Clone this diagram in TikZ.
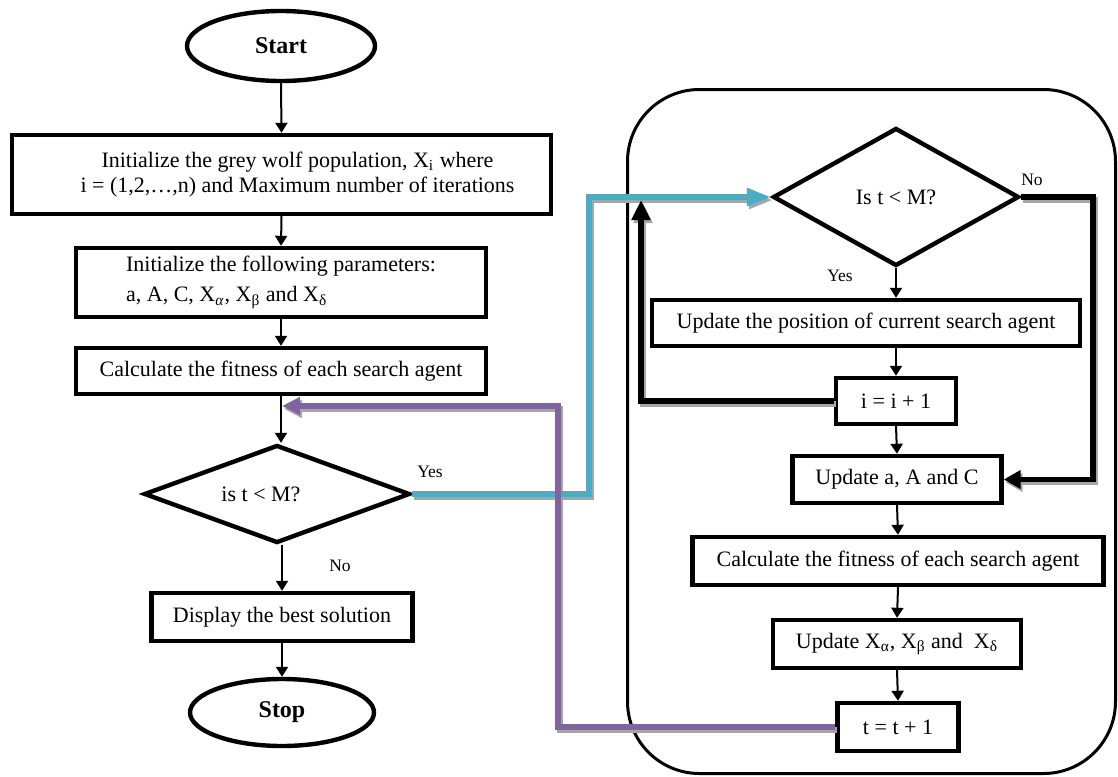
\documentclass[tikz,border=0pt]{standalone}
\usepackage{fontspec}
\setmainfont{Liberation Serif}
\usetikzlibrary{shapes.geometric,arrows.meta,calc}
\definecolor{aqua}{RGB}{75,172,198}
\definecolor{lilac}{RGB}{128,100,162}
\begin{document}
\begin{tikzpicture}[x=0.5pt,y=-0.5pt,
  box/.style={draw,line width=2.2pt,inner sep=0pt,align=center,font=\fontsize{11}{12.5}\selectfont},
  term/.style={draw,ellipse,line width=2.2pt,inner sep=0pt,font=\fontsize{12}{14}\selectfont\bfseries},
  dec/.style={draw,diamond,line width=2.2pt,inner sep=0pt,font=\fontsize{11}{12.5}\selectfont},
  lbl/.style={inner sep=0pt,font=\fontsize{8.75}{10}\selectfont},
  flow/.style={line width=1pt,-{Triangle[length=5pt,width=6pt]}},
  heavy/.style={line width=2.75pt,line join=miter},
  shadecol/.style={draw=black!35}
]
\useasboundingbox (0,0) rectangle (1118,776);
\draw[line width=1.5pt,rounded corners=36pt] (627.5,89.5) rectangle (1115.5,773.5);

% left column
\node[term,minimum width=94pt,minimum height=35pt] (start) at (281,46) {Start};
\node[box,minimum width=269.5pt,minimum height=39.5pt] (init) at (281.5,174.5)
  {\hspace*{16pt}Initialize the grey wolf population, X\textsubscript{i} where\\ \hspace*{16pt}i = (1,2,…,n) and Maximum number of iterations};
\node[box,minimum width=205pt,minimum height=34.5pt,align=left,font=\fontsize{11}{15}\selectfont] (param) at (281,282.5)
  {Initialize the following parameters:\\ a, A, C, X\textsubscript{\textit{α}}, X\textsubscript{β} and X\textsubscript{δ}};
\node[box,minimum width=205pt,minimum height=23pt] (fit1) at (281,371) {Calculate the fitness of each search agent};
\node[dec,minimum width=133pt,minimum height=49pt] (chk1) at (277,494) {\hspace*{-16pt}is t < M?};
\node[box,minimum width=130.5pt,minimum height=24pt] (disp) at (282,617) {Display the best solution};
\node[term,minimum width=92pt,minimum height=33.5pt] (stop) at (282,712.5) {Stop};

% right column
\node[dec,minimum width=123pt,minimum height=69pt] (chk2) at (896,197) {Is t < M?};
\node[box,minimum width=214pt,minimum height=23pt] (pos) at (866,323) {Update the position of current search agent};
\node[box,minimum width=60pt,minimum height=23pt] (inc) at (896,401) {i = i + 1};
\node[box,minimum width=104.5pt,minimum height=23.5pt] (upd) at (897,479.5) {Update a, A and C};
\node[box,minimum width=205.5pt,minimum height=24pt] (fit2) at (898,561) {Calculate the fitness of each search agent};
\node[box,minimum width=124pt,minimum height=24pt] (best) at (897,644) {Update X\textsubscript{α}, X\textsubscript{β} and\ \ X\textsubscript{δ}};
\node[box,minimum width=60.5pt,minimum height=24pt] (tinc) at (898,727) {t = t + 1};

% labels
\node[lbl] (y1) at (430,472) {Yes};
\node[lbl] (n1) at (340,566) {No};
\node[lbl] (y2) at (840,276) {Yes};
\node[lbl] (n2) at (1032,180) {No};

% helper coordinates
\coordinate (cx) at (589,0);
\coordinate (nx) at (1093,0);
\coordinate (lx) at (641,200);
\coordinate (pv) at (558,406);
\coordinate (pm) at (282,406);

% thin flows
\draw[flow] (start.south) -- (init.north);
\draw[flow] (init.south) -- (param.north);
\draw[flow] (param.south) -- (fit1.north);
\draw[flow] (fit1.south) -- (fit1.south |- chk1.north);
\draw[flow] (chk1.south -| disp.north) -- (disp.north);
\draw[flow] (disp.south) -- (stop.north);
\draw[flow] (chk2.south) -- (chk2.south |- pos.north);
\draw[flow] (pos.south -| inc.north) -- (inc.north);
\draw[flow] (inc.south) -- (upd.north);
\draw[flow] (upd.south) -- (fit2.north);
\draw[flow] (fit2.south) -- (best.north);
\draw[flow] (best.south) -- (tinc.north);

% shadows of heavy connectors
\begin{scope}[transform canvas={xshift=1pt,yshift=-1.5pt}]
  \draw[heavy,shadecol,-{Triangle[length=12pt,width=8.5pt]}] (chk1.east) -- (chk1.east -| cx) |- (chk2.west);
  \draw[heavy,shadecol,-{Triangle[length=9pt,width=8.5pt]}] (tinc.west) -| (pv) -- (pm);
  \draw[heavy,shadecol,-{Triangle[length=8.5pt,width=9pt]}] (chk2.east) -- (chk2.east -| nx) |- (upd.east);
  \draw[heavy,shadecol,-{Triangle[length=10pt,width=9pt]}] (inc.west) -| (lx);
\end{scope}

% heavy connectors
\draw[heavy,draw=aqua,-{Triangle[length=12pt,width=8.5pt,fill=aqua]}] (chk1.east) -- (chk1.east -| cx) |- (chk2.west);
\draw[heavy,draw=lilac,-{Triangle[length=9pt,width=8.5pt,fill=lilac]}] (tinc.west) -| (pv) -- (pm);
\draw[heavy,-{Triangle[length=8.5pt,width=9pt]}] (chk2.east) -- (chk2.east -| nx) |- (upd.east);
\draw[heavy,-{Triangle[length=10pt,width=9pt]}] (inc.west) -| (lx);
\end{tikzpicture}
\end{document}
